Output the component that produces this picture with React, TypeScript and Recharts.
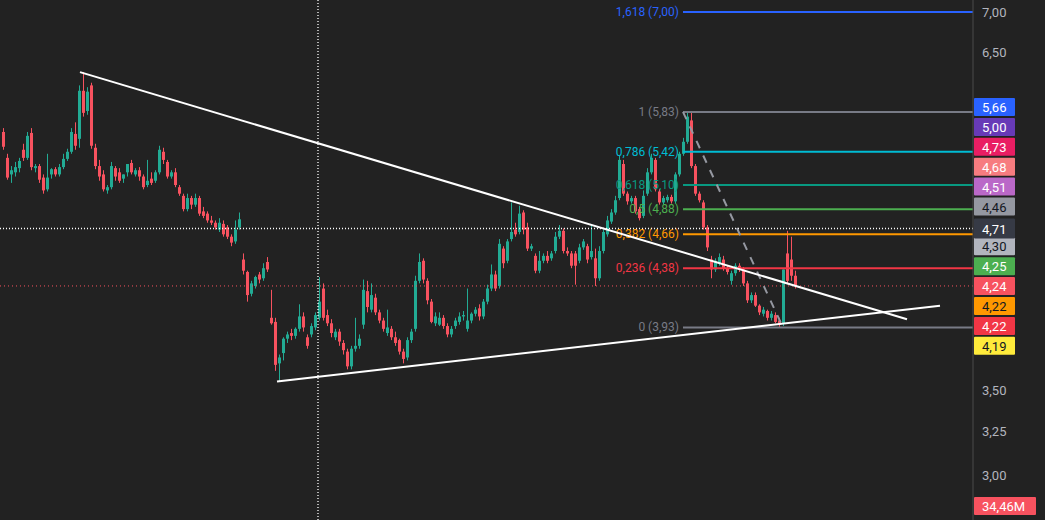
import React from 'react';
import { ComposedChart, Bar, XAxis, YAxis, ReferenceLine } from 'recharts';

// OHLC (log price axis)
const opens = [
  5.62, 5.36, 5.2, 5.22, 5.26, 5.44, 5.36, 5.61, 5.26, 5.28, 5.17, 5.06, 5.2, 5.25, 5.2, 5.27, 5.35, 5.42, 5.6, 5.55,
  6.06, 5.84, 6.12, 5.46, 5.28, 5.2, 5.05, 5.08, 5.26, 5.22, 5.16, 5.22, 5.31, 5.2, 5.24, 5.18, 5.1, 5.16, 5.14, 5.22,
  5.42, 5.32, 5.18, 5.22, 5.08, 5.0, 4.88, 4.98, 4.92, 4.98, 4.86, 4.84, 4.78, 4.76, 4.7, 4.75, 4.72, 4.64, 4.6, 4.72,
  4.45, 4.35, 4.18, 4.24, 4.33, 4.3, 4.43, 4.0, 3.97, 3.68, 3.75, 3.85, 3.89, 3.87, 3.92, 4.01, 3.86, 3.88, 3.93, 4.0,
  4.22, 4.02, 3.96, 3.86, 3.9, 3.82, 3.76, 3.66, 3.78, 3.8, 3.95, 4.2, 4.06, 4.15, 4.04, 3.98, 3.89, 3.92, 3.86, 3.84,
  3.76, 3.72, 3.84, 3.92, 4.28, 4.44, 4.28, 4.12, 3.96, 3.95, 4.0, 3.94, 3.88, 3.94, 3.97, 4.01, 3.92, 3.98, 4.03, 4.07,
  4.01, 4.12, 4.22, 4.33, 4.24, 4.54, 4.44, 4.62, 4.7, 4.68, 4.85, 4.72, 4.54, 4.48, 4.36, 4.44, 4.48, 4.46, 4.52, 4.64,
  4.69, 4.52, 4.5, 4.5, 4.44, 4.55, 4.56, 4.47, 4.46, 4.3, 4.52, 4.66, 4.77, 4.85, 4.98, 5.3, 5.02, 4.95, 4.98, 4.88,
  4.82, 5.02, 5.22, 5.34, 5.04, 4.94, 4.96, 4.99, 4.95, 5.2, 5.4, 5.52, 5.74, 5.28, 5.02, 4.94, 4.72, 4.45, 4.37, 4.42,
  4.45, 4.38, 4.28, 4.34, 4.4, 4.37, 4.26, 4.13, 4.17, 4.09, 4.03, 4.05, 4.0, 4.02, 3.98, 3.96, 4.5, 4.45, 4.32,
];
const highs = [
  5.66, 5.4, 5.28, 5.32, 5.36, 5.5, 5.62, 5.66, 5.3, 5.3, 5.2, 5.4, 5.26, 5.27, 5.3, 5.4, 5.45, 5.66, 5.72, 6.12,
  6.27, 6.1, 6.15, 5.5, 5.34, 5.24, 5.1, 5.32, 5.28, 5.26, 5.2, 5.3, 5.34, 5.26, 5.27, 5.2, 5.34, 5.22, 5.24, 5.48,
  5.46, 5.34, 5.24, 5.26, 5.1, 5.02, 5.02, 5.0, 5.02, 5.0, 4.9, 4.86, 4.82, 4.78, 4.8, 4.78, 4.74, 4.66, 4.78, 4.85,
  4.5, 4.36, 4.28, 4.32, 4.35, 4.42, 4.47, 4.21, 4.0, 3.74, 3.86, 3.9, 3.92, 3.93, 4.1, 4.04, 3.88, 3.96, 4.04, 4.31,
  4.26, 4.06, 3.99, 3.92, 3.92, 3.84, 3.78, 3.8, 4.0, 3.88, 4.29, 4.28, 4.26, 4.18, 4.06, 4.0, 4.06, 3.94, 3.9, 3.85,
  3.78, 3.86, 3.92, 4.32, 4.5, 4.46, 4.3, 4.14, 4.04, 4.04, 4.02, 3.96, 3.94, 4.0, 4.04, 4.05, 4.22, 4.04, 4.08, 4.1,
  4.14, 4.25, 4.41, 4.36, 4.62, 4.56, 4.62, 4.94, 4.76, 4.91, 4.87, 4.76, 4.58, 4.5, 4.52, 4.5, 4.52, 4.52, 4.68, 4.74,
  4.71, 4.55, 4.52, 4.52, 4.58, 4.62, 4.58, 4.74, 4.54, 4.56, 4.7, 4.82, 4.88, 5.0, 5.38, 5.34, 5.04, 5.0, 5.0, 4.9,
  5.05, 5.26, 5.4, 5.36, 5.06, 5.0, 5.01, 5.01, 5.22, 5.42, 5.56, 5.83, 5.83, 5.3, 5.04, 4.96, 4.74, 4.48, 4.46, 4.5,
  4.48, 4.4, 4.36, 4.42, 4.42, 4.39, 4.28, 4.19, 4.19, 4.1, 4.08, 4.06, 4.05, 4.04, 4.0, 4.37, 4.69, 4.64, 4.36,
];
const lows = [
  5.44, 5.15, 5.12, 5.18, 5.22, 5.33, 5.34, 5.24, 5.22, 5.12, 5.02, 5.04, 5.16, 5.18, 5.18, 5.25, 5.33, 5.4, 5.44, 5.46,
  5.78, 5.8, 5.45, 5.25, 5.14, 5.04, 5.02, 5.06, 5.14, 5.12, 5.12, 5.18, 5.2, 5.18, 5.14, 5.06, 5.08, 5.1, 5.12, 5.2,
  5.3, 5.16, 5.16, 5.08, 5.0, 4.86, 4.86, 4.88, 4.9, 4.82, 4.8, 4.76, 4.74, 4.7, 4.68, 4.64, 4.62, 4.56, 4.58, 4.7,
  4.33, 4.12, 4.16, 4.22, 4.26, 4.28, 4.35, 3.95, 3.63, 3.56, 3.7, 3.82, 3.84, 3.85, 3.9, 3.9, 3.78, 3.86, 3.91, 3.98,
  3.98, 3.94, 3.86, 3.84, 3.8, 3.74, 3.64, 3.64, 3.76, 3.78, 3.92, 4.04, 4.04, 4.02, 3.96, 3.9, 3.87, 3.84, 3.8, 3.74,
  3.68, 3.7, 3.82, 3.9, 4.26, 4.26, 4.1, 3.96, 3.94, 3.94, 3.92, 3.86, 3.86, 3.92, 3.95, 3.98, 3.9, 3.96, 4.01, 3.98,
  3.99, 4.1, 4.2, 4.2, 4.22, 4.38, 4.42, 4.6, 4.64, 4.66, 4.66, 4.52, 4.52, 4.34, 4.34, 4.42, 4.42, 4.44, 4.5, 4.62,
  4.5, 4.48, 4.38, 4.25, 4.42, 4.53, 4.42, 4.45, 4.24, 4.28, 4.5, 4.64, 4.75, 4.83, 4.96, 5.0, 4.92, 4.93, 4.84, 4.78,
  4.8, 5.0, 5.2, 5.04, 4.92, 4.92, 4.94, 4.93, 4.93, 5.18, 5.38, 5.5, 5.26, 5.0, 4.94, 4.7, 4.52, 4.3, 4.35, 4.4,
  4.36, 4.33, 4.25, 4.32, 4.35, 4.24, 4.11, 4.11, 4.08, 4.02, 4.01, 3.98, 3.98, 3.96, 3.93, 3.94, 4.26, 4.28, 4.22,
];
const closes = [
  5.47, 5.17, 5.24, 5.27, 5.33, 5.36, 5.58, 5.27, 5.28, 5.15, 5.05, 5.17, 5.25, 5.2, 5.27, 5.35, 5.42, 5.62, 5.48, 6.06,
  5.82, 6.05, 5.48, 5.28, 5.18, 5.06, 5.08, 5.28, 5.18, 5.14, 5.2, 5.3, 5.22, 5.24, 5.18, 5.08, 5.14, 5.12, 5.22, 5.44,
  5.34, 5.18, 5.22, 5.1, 5.02, 4.88, 4.98, 4.92, 4.98, 4.84, 4.82, 4.78, 4.76, 4.72, 4.76, 4.66, 4.64, 4.59, 4.7, 4.79,
  4.36, 4.17, 4.26, 4.31, 4.29, 4.38, 4.37, 3.96, 3.67, 3.72, 3.85, 3.88, 3.87, 3.92, 4.01, 3.93, 3.8, 3.94, 4.02, 4.12,
  4.0, 3.96, 3.89, 3.9, 3.83, 3.77, 3.66, 3.78, 3.8, 3.85, 4.21, 4.08, 4.17, 4.04, 3.98, 3.92, 3.93, 3.86, 3.82, 3.76,
  3.71, 3.84, 3.9, 4.28, 4.43, 4.29, 4.13, 3.97, 4.01, 4.0, 3.94, 3.88, 3.92, 3.98, 4.01, 4.02, 3.98, 4.03, 4.06, 4.01,
  4.12, 4.22, 4.33, 4.22, 4.58, 4.42, 4.6, 4.68, 4.66, 4.84, 4.7, 4.54, 4.56, 4.36, 4.44, 4.48, 4.44, 4.5, 4.64, 4.69,
  4.52, 4.5, 4.4, 4.4, 4.55, 4.6, 4.45, 4.52, 4.3, 4.52, 4.68, 4.78, 4.85, 4.96, 5.34, 5.02, 4.95, 4.98, 4.86, 4.8,
  5.0, 5.22, 5.36, 5.06, 4.94, 4.98, 4.99, 4.95, 5.2, 5.4, 5.52, 5.78, 5.28, 5.02, 4.96, 4.72, 4.55, 4.37, 4.44, 4.47,
  4.38, 4.35, 4.34, 4.4, 4.37, 4.26, 4.13, 4.17, 4.09, 4.04, 4.06, 4.0, 4.03, 3.97, 3.95, 4.37, 4.28, 4.32, 4.24,
];

// fibonacci retracement
const fibRatios = ['1,618', '1', '0,786', '0,618', '0,5', '0,382', '0,236', '0'];
const fibPrices = [7.0, 5.83, 5.42, 5.1, 4.88, 4.66, 4.38, 3.93];
const fibColors = ['#2962ff', '#787b86', '#00bcd4', '#089981', '#4caf50', '#ff9800', '#f23645', '#787b86'];
const fibFrom = 170.25;
const fibTo = 242.75;
const fibDiagonal = [{ x: 170.25, y: 5.83 }, { x: 195.25, y: 3.93 }];

// drawn trend lines
const upperTrend = [{ x: 19.5, y: 6.27 }, { x: 226.25, y: 3.99 }];
const lowerTrend = [{ x: 68.75, y: 3.56 }, { x: 234.5, y: 4.09 }];

const crossIndex = 79;
const crossPrice = 4.71;
const lastPrice = 4.24;

const yTicks = [3, 3.25, 3.5, 6.5, 7];

// price scale badges (top to bottom, crosshair badge sits between 4,46 and 4,30)
const badgeLabels = ['5,66', '5,00', '4,73', '4,68', '4,51', '4,46', '4,30', '4,25', '4,24', '4,22', '4,22', '4,19'];
const badgeColors = ['#2962ff', '#673ab7', '#e91e63', '#f77c80', '#ba68c8', '#9598a1', '#b2b5be', '#4caf50', '#f7525f', '#ff9800', '#f23645', '#ffeb3b'];
const badgeDarkText = [false, false, false, false, false, true, true, false, false, true, false, true];
const volumeLabel = '34,46M';

const rows = opens.map((o, i) => ({
  i,
  open: o,
  high: highs[i],
  low: lows[i],
  close: closes[i],
  range: [lows[i], highs[i]],
}));

const fmt = (v: number) => v.toFixed(2).replace('.', ',');

const Candle = (props: any) => {
  const { x, y, width, height, payload } = props;
  if (x == null || y == null) return null;
  const { open, close, high, low } = payload;
  const color = close >= open ? '#22ab94' : '#f7525f';
  const lh = Math.log(high);
  const k = height / (lh - Math.log(low) || 1);
  const yo = y + (lh - Math.log(open)) * k;
  const yc = y + (lh - Math.log(close)) * k;
  const cx = Math.round(x + width / 2);
  const top = Math.min(yo, yc);
  const bh = Math.max(1, Math.abs(yo - yc));
  return (
    <g>
      <line x1={cx + 0.5} x2={cx + 0.5} y1={y} y2={y + height} stroke={color} strokeWidth={1} />
      <rect x={cx - 1} y={top} width={3} height={bh} fill={color} />
    </g>
  );
};

const fibLabel = (text: string, color: string) => (props: any) => {
  const vb = props.viewBox || {};
  return (
    <text x={vb.x - 4} y={vb.y} textAnchor="end" dominantBaseline="central" fill={color} fontSize={12}>
      {text}
    </text>
  );
};

const Badges = (props: any) => {
  const vb = props.viewBox || {};
  const left = vb.x + vb.width + 1;
  const slotTop = (k: number) => 98 + (k < 6 ? k : k + 1) * 19.9;
  return (
    <g fontSize={13}>
      {badgeLabels.map((t, k) => (
        <g key={k}>
          <rect x={left} y={slotTop(k)} width={41} height={18} rx={1} fill={badgeColors[k]} />
          <text x={left + 8} y={slotTop(k) + 9.5} dominantBaseline="central" fill={badgeDarkText[k] ? '#131722' : '#ffffff'}>
            {t}
          </text>
        </g>
      ))}
      <rect x={left} y={vb.y - 10} width={41} height={20} rx={1} fill="#363a45" />
      <text x={left + 8} y={vb.y + 0.5} dominantBaseline="central" fill="#ffffff">
        {fmt(crossPrice)}
      </text>
      <rect x={left} y={497} width={62} height={18} rx={1} fill="#f7525f" />
      <text x={left + 8} y={506.5} dominantBaseline="central" fill="#ffffff">
        {volumeLabel}
      </text>
    </g>
  );
};

export default function App() {
  return (
    <div
      style={{
        position: 'absolute',
        left: 0,
        top: 0,
        width: 1045,
        height: 520,
        background: '#222222',
        fontFamily: 'Roboto, "Noto Sans", sans-serif',
      }}
    >
      <ComposedChart width={1045} height={520} data={rows} margin={{ top: 0, right: 0, bottom: 0, left: 0 }}>
        <XAxis type="number" dataKey="i" domain={[-0.5, 242.75]} allowDataOverflow hide />
        <YAxis
          orientation="right"
          scale="log"
          domain={[2.763, 7.155]}
          allowDataOverflow
          ticks={yTicks}
          tickFormatter={fmt}
          width={72}
          tickLine={false}
          tickMargin={3}
          axisLine={{ stroke: '#4a4a4a' }}
          tick={{ fill: '#b2b5be', fontSize: 13 }}
        />
        <Bar dataKey="range" shape={Candle} barSize={3} isAnimationActive={false} />

        <ReferenceLine x={crossIndex} stroke="#ffffff" strokeWidth={1.3} strokeDasharray="1 2" ifOverflow="visible" />
        <ReferenceLine y={lastPrice} stroke="#f7525f" strokeWidth={1} strokeDasharray="1 3" ifOverflow="visible" />

        {fibPrices.map((p, k) => (
          <ReferenceLine
            key={k}
            segment={[{ x: fibFrom, y: p }, { x: fibTo, y: p }]}
            stroke={fibColors[k]}
            strokeWidth={2}
            ifOverflow="visible"
            label={fibLabel(`${fibRatios[k]} (${fmt(p)})`, fibColors[k])}
          />
        ))}
        <ReferenceLine segment={fibDiagonal} stroke="#9598a1" strokeWidth={2} strokeDasharray="8 8" ifOverflow="visible" />

        <ReferenceLine segment={upperTrend} stroke="#ffffff" strokeWidth={2} ifOverflow="visible" />
        <ReferenceLine segment={lowerTrend} stroke="#ffffff" strokeWidth={2} ifOverflow="visible" />

        <ReferenceLine
          y={crossPrice}
          stroke="#ffffff"
          strokeWidth={1.3}
          strokeDasharray="1 2"
          ifOverflow="visible"
          label={(p: any) => <Badges {...p} />}
        />
      </ComposedChart>
    </div>
  );
}
